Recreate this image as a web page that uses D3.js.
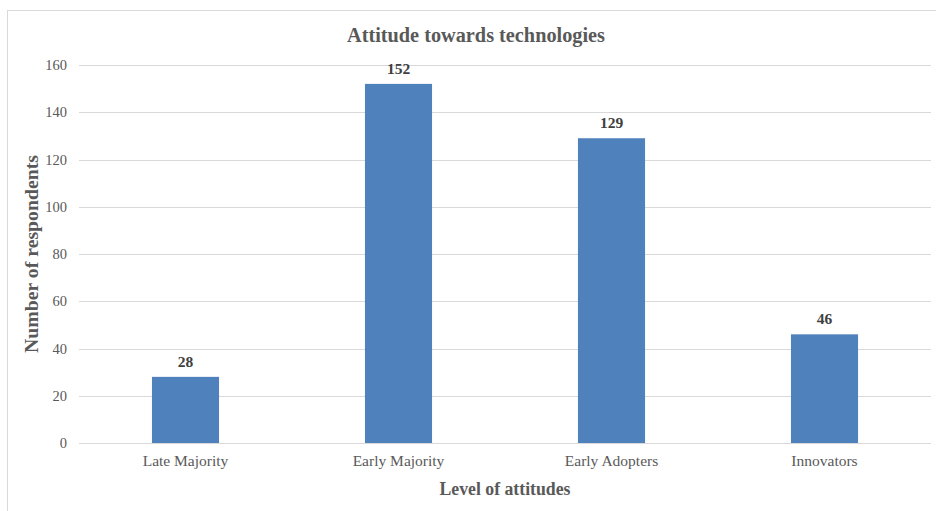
<!DOCTYPE html>
<html><head><meta charset="utf-8">
<script src="https://cdn.jsdelivr.net/npm/d3@7"></script>
<style>html,body{margin:0;padding:0;background:#fff;}svg{display:block;}</style>
</head><body>
<script>
const categories = ["Late Majority", "Early Majority", "Early Adopters", "Innovators"];
const values = [28, 152, 129, 46];
const yTicks = [0, 20, 40, 60, 80, 100, 120, 140, 160];
const title = "Attitude towards technologies";
const xTitle = "Level of attitudes";
const yTitle = "Number of respondents";

const W = 936, H = 511;
const m = {left: 79, right: 936 - 931, top: 65, bottom: 511 - 443};
const svg = d3.select("body").append("svg").attr("width", W).attr("height", H);
const font = "'Liberation Serif','Times New Roman',serif";

svg.append("rect").attr("x", 7.5).attr("y", 10.5).attr("width", 940).attr("height", 520)
  .attr("fill", "#fff").attr("stroke", "#d9d9d9").attr("stroke-width", 1);

const x = d3.scaleBand().domain(categories).range([m.left, W - m.right]).paddingInner(0.685).paddingOuter(0.3425);
const y = d3.scaleLinear().domain([0, 160]).range([H - m.bottom, m.top]);

// grid
svg.append("g").selectAll("line").data(yTicks).join("line")
  .attr("x1", m.left).attr("x2", W - m.right)
  .attr("y1", d => Math.round(y(d)) + 0.5).attr("y2", d => Math.round(y(d)) + 0.5)
  .attr("stroke", "#d9d9d9").attr("stroke-width", 1);

// y axis labels
const yAxis = svg.append("g").attr("transform", `translate(${m.left},0)`)
  .call(d3.axisLeft(y).tickValues(yTicks).tickSize(0).tickPadding(12));
yAxis.select(".domain").remove();
yAxis.selectAll("text").attr("font-family", font).attr("font-size", 14.5).attr("fill", "#595959");

// x axis labels
const xAxis = svg.append("g").attr("transform", `translate(0,${H - m.bottom})`)
  .call(d3.axisBottom(x).tickSize(0).tickPadding(12));
xAxis.select(".domain").remove();
xAxis.selectAll("text").attr("font-family", font).attr("font-size", 15.5).attr("fill", "#595959");

// bars
svg.append("g").selectAll("rect").data(values).join("rect")
  .attr("x", (d, i) => x(categories[i])).attr("width", x.bandwidth())
  .attr("y", d => y(d)).attr("height", d => y(0) - y(d))
  .attr("fill", "#4f81bd");

// data labels
svg.append("g").selectAll("text").data(values).join("text")
  .attr("x", (d, i) => x(categories[i]) + x.bandwidth() / 2)
  .attr("y", d => y(d) - 10)
  .attr("text-anchor", "middle").attr("font-family", font).attr("font-weight", "bold")
  .attr("font-size", 15.5).attr("fill", "#404040").text(d => d);

// title
svg.append("text").attr("x", 476).attr("y", 42).attr("text-anchor", "middle")
  .attr("font-family", font).attr("font-weight", "bold").attr("font-size", 20)
  .attr("textLength", 258).attr("lengthAdjust", "spacingAndGlyphs")
  .attr("fill", "#595959").text(title);

// axis titles
svg.append("text").attr("x", 505).attr("y", 495).attr("text-anchor", "middle")
  .attr("font-family", font).attr("font-weight", "bold").attr("font-size", 18)
  .attr("textLength", 131).attr("lengthAdjust", "spacingAndGlyphs")
  .attr("fill", "#595959").text(xTitle);
svg.append("text").attr("transform", "translate(38,254) rotate(-90)").attr("text-anchor", "middle")
  .attr("font-family", font).attr("font-weight", "bold").attr("font-size", 18)
  .attr("textLength", 198).attr("lengthAdjust", "spacingAndGlyphs")
  .attr("fill", "#595959").text(yTitle);
</script>
</body></html>
